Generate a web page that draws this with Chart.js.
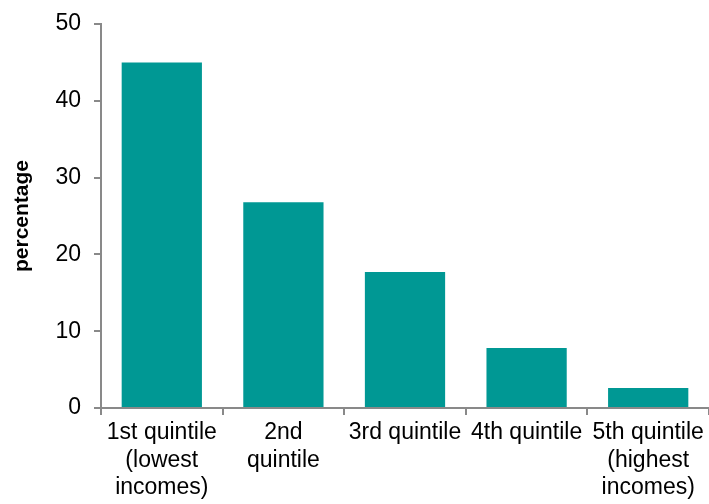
<!DOCTYPE html>
<html>
<head>
<meta charset="utf-8">
<script src="https://cdn.jsdelivr.net/npm/chart.js@4"></script>
<style>
  html, body { margin: 0; padding: 0; background: #fff; }
  #wrap { width: 709px; height: 504px; }
</style>
</head>
<body>
<div id="wrap"><canvas id="mycanvas1" width="709" height="504"></canvas></div>
<script>
var quintiles = [
  ["1st quintile", "(lowest", "incomes)"],
  ["2nd", "quintile"],
  "3rd quintile",
  "4th quintile",
  ["5th quintile", "(highest", "incomes)"]
];
var percentage = [45, 26.8, 17.7, 7.8, 2.6];
var yTicks = [0, 10, 20, 30, 40, 50];

var chartdata = {
  labels: quintiles,
  datasets: [
    {
      label: "percentage",
      backgroundColor: "#009894",
      borderWidth: 0,
      barPercentage: 0.66,
      categoryPercentage: 1,
      data: percentage
    }
  ]
};

var ctx = document.getElementById("mycanvas1");
var barGraph = new Chart(ctx, {
  type: 'bar',
  data: chartdata,
  options: {
    responsive: false,
    animation: false,
    layout: { padding: { top: 24, right: 0, left: 0, bottom: 0 } },
    plugins: { legend: { display: false }, tooltip: { enabled: false } },
    scales: {
      x: {
        offset: true,
        grid: {
          offset: true,
          drawOnChartArea: false,
          drawTicks: true,
          tickLength: 7,
          color: "#898989",
          lineWidth: 2
        },
        border: { color: "#898989", width: 2 },
        ticks: {
          color: "#000",
          font: { family: "Liberation Sans, Arial", size: 23, lineHeight: 1.2 },
          maxRotation: 0,
          autoSkip: false,
          padding: 4
        },
        afterFit: function(scale) {
          scale.height = 96;
          scale.paddingLeft = 0;
          scale.paddingRight = 0;
        }
      },
      y: {
        min: 0,
        max: 50,
        afterBuildTicks: function(scale) {
          scale.ticks = yTicks.map(function(v) { return { value: v }; });
        },
        grid: {
          drawOnChartArea: false,
          drawTicks: true,
          tickLength: 7,
          color: "#898989",
          lineWidth: 2
        },
        border: { color: "#898989", width: 2 },
        ticks: {
          color: "#000",
          font: { family: "Liberation Sans, Arial", size: 23 },
          padding: 13
        },
        title: {
          display: true,
          text: "percentage",
          color: "#000",
          font: { family: "Liberation Sans, Arial", size: 21, weight: "bold" },
          padding: { top: 10, bottom: 0 }
        },
        afterFit: function(scale) {
          scale.width = 101;
          scale.paddingTop = 0;
          scale.paddingBottom = 0;
        }
      }
    }
  }
});
</script>
</body>
</html>
